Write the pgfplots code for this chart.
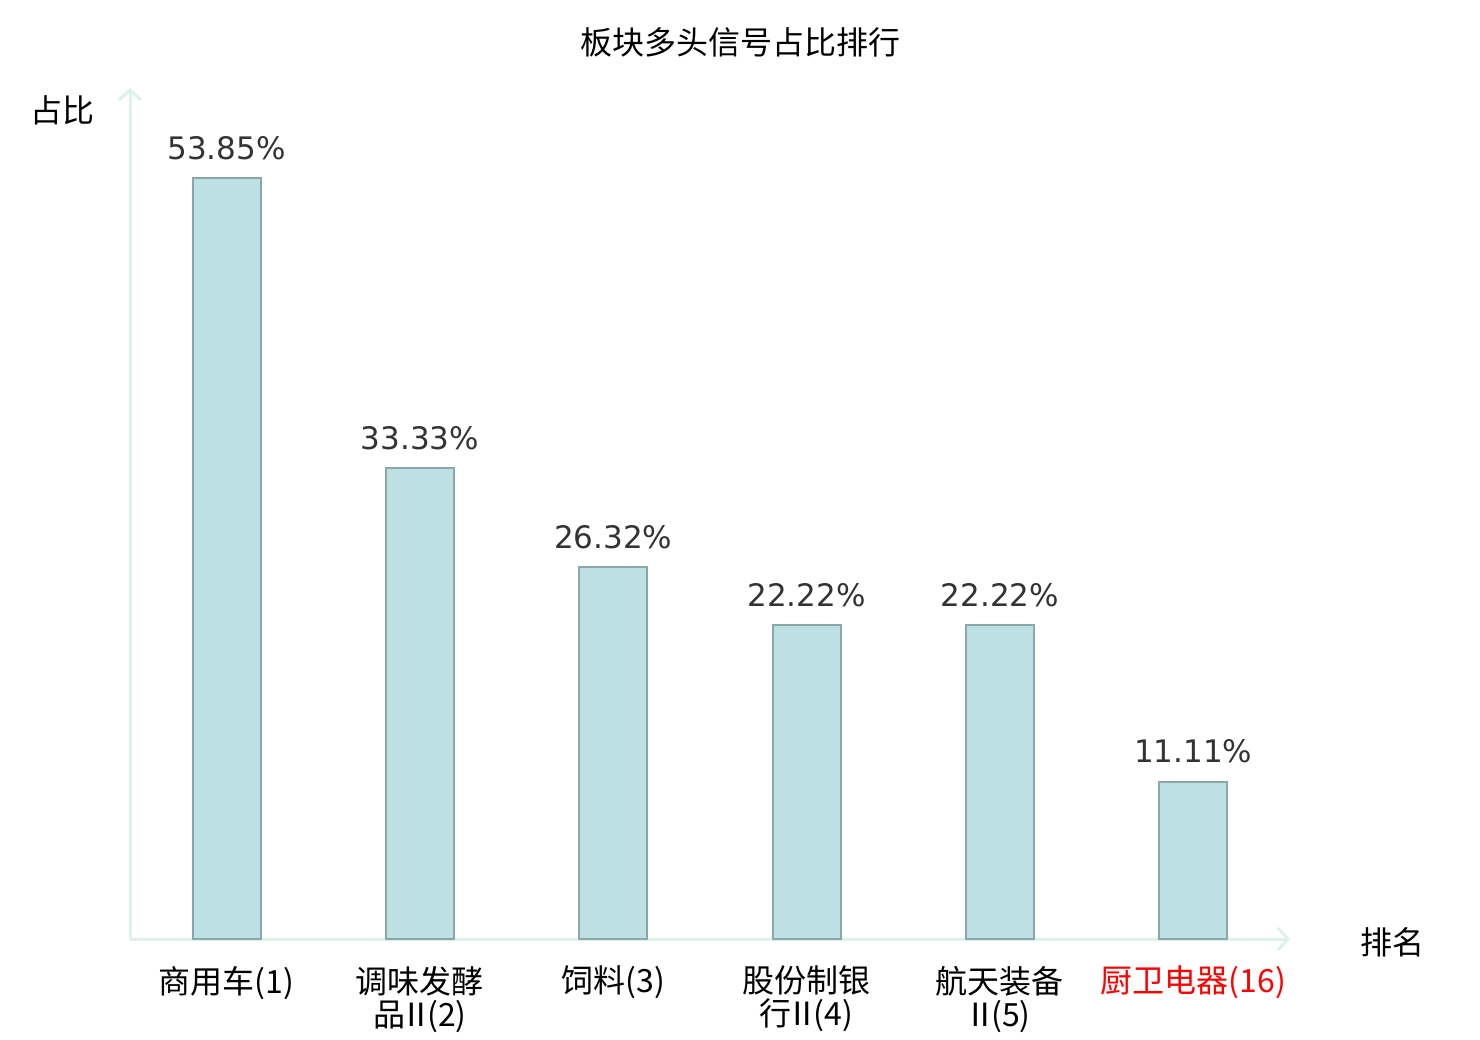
\documentclass[border=0pt]{standalone}
\usepackage{pgfplots}
\pgfplotsset{compat=1.18}
\usepackage{fontspec}
\setmainfont{Noto Sans CJK SC}
\newfontfamily\dejavu{DejaVu Sans}
\usetikzlibrary{arrows.meta}
\definecolor{barfill}{RGB}{188,224,227}
\definecolor{baredge}{RGB}{138,168,168}
\definecolor{axcol}{RGB}{221,241,238}
\definecolor{lab}{RGB}{51,51,51}
\newcommand{\two}{\kern-2.5pt Ⅱ\kern-2.5pt}
\begin{document}
\begin{tikzpicture}
\fill[white] (0,0) rectangle (740pt,520pt);
\begin{axis}[at={(65pt,50.5pt)}, anchor=south west, scale only axis,
  width=580pt, height=425.5pt,
  xmin=-0.5, xmax=5.5, ymin=0, ymax=60.25,
  axis lines=left,
  axis line style={axcol, line width=1.5pt, -{Straight Barb[length=5pt,width=11pt,line width=1.5pt]}},
  ytick=\empty, xtick=data, major tick length=0pt,
  xticklabels={商用车(1), {调味发酵\\品\two(2)}, 饲料(3), {股份制银\\行\two(4)}, {航天装备\\\two(5)}, {\color{red}厨卫电器(16)}},
  xticklabel style={align=center, anchor=north, yshift=-10pt, font=\fontsize{16}{16.5}\selectfont, text=black},
  ybar, bar width=34pt, clip=false,
  /pgf/number format/assume math mode=true,
  nodes near coords={\pgfmathprintnumber[fixed,fixed zerofill,precision=2,assume math mode=true]{\pgfplotspointmeta}\%},
  every node near coord/.append style={font=\dejavu\fontsize{15.5}{16}\selectfont, text=lab, yshift=5.5pt},
]
\addplot[fill=barfill, draw=baredge, line width=1pt] coordinates {
  (0,53.85) (1,33.33) (2,26.32) (3,22.22) (4,22.22) (5,11.11)};
\end{axis}
\node[font=\fontsize{16}{16}\selectfont] at (370pt,499pt) {板块多头信号占比排行};
\node[font=\fontsize{16}{16}\selectfont] at (31.5pt,465pt) {占比};
\node[font=\fontsize{16}{16}\selectfont] at (696pt,49pt) {排名};
\end{tikzpicture}
\end{document}
